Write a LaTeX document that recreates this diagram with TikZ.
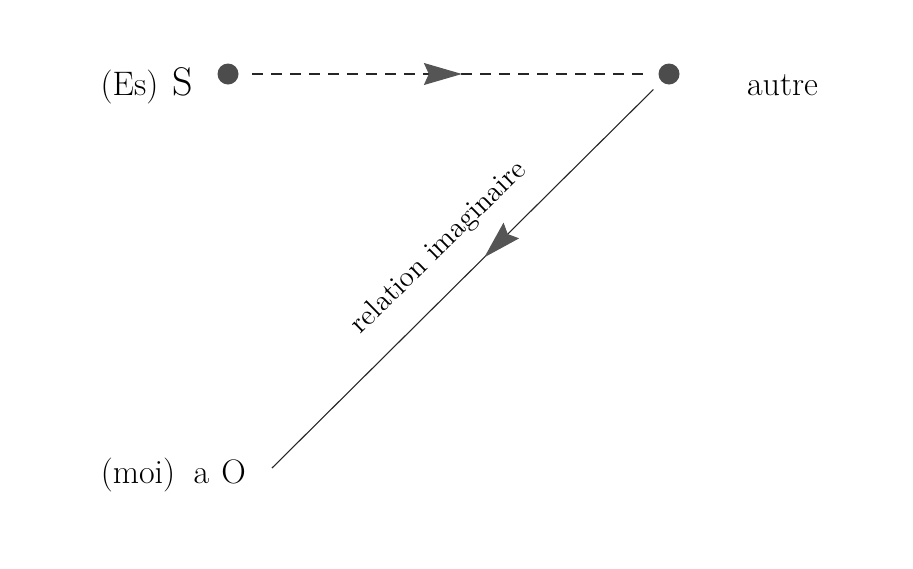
\documentclass[tikz,border=0pt]{standalone}
\usetikzlibrary{arrows.meta,decorations.markings}
\definecolor{dotgray}{HTML}{4C4C4C}
\definecolor{headgray}{HTML}{555555}
\begin{document}
\begin{tikzpicture}[x=0.5pt,y=-0.5pt,
  dot/.style={circle,fill=dotgray,draw=none,minimum size=10.5pt,inner sep=0pt,outer sep=0pt},
  lab/.style={inner sep=0pt,outer sep=0pt,anchor=base,font=\fontsize{17}{20}\selectfont},
  conn/.style={line width=0.55pt,black!85},
  headtip/.tip={Stealth[length=19pt,width=11pt,inset=2.5pt,fill=headgray,color=headgray]}]
\useasboundingbox (0,0) rectangle (913,568);
\node[dot] (S) at (228,74) {};
\node[dot] (A) at (669,74) {};
\coordinate (O) at (272,468);
\node[lab] (Es) at (129.5,95) {(Es)};
\node[lab,font=\fontsize{20}{24}\selectfont] (Sl) at (182.5,95) {S};
\node[lab] (autre) at (782.5,95) {autre};
\node[lab] (moi) at (138,483) {(moi)};
\node[lab] (a) at (201.5,483) {a};
\node[lab] (Ol) at (233.5,483) {O};
\draw[conn,dash pattern=on 5.5pt off 4pt,
  postaction={decorate},
  decoration={markings,mark=at position 0.534 with {\arrow{headtip}}}]
  ([xshift=6.75pt]S.east) -- ([xshift=-6.75pt]A.west);
\draw[conn,shorten <=5.75pt,
  postaction={decorate},
  decoration={markings,mark=at position 0.455 with {\arrow{headtip}}}]
  (A) -- (O);
\node[inner sep=0pt,rotate=44.5,anchor=base,font=\fontsize{14.5}{17}\selectfont] (rel) at (444,253) {relation imaginaire};
\end{tikzpicture}
\end{document}
